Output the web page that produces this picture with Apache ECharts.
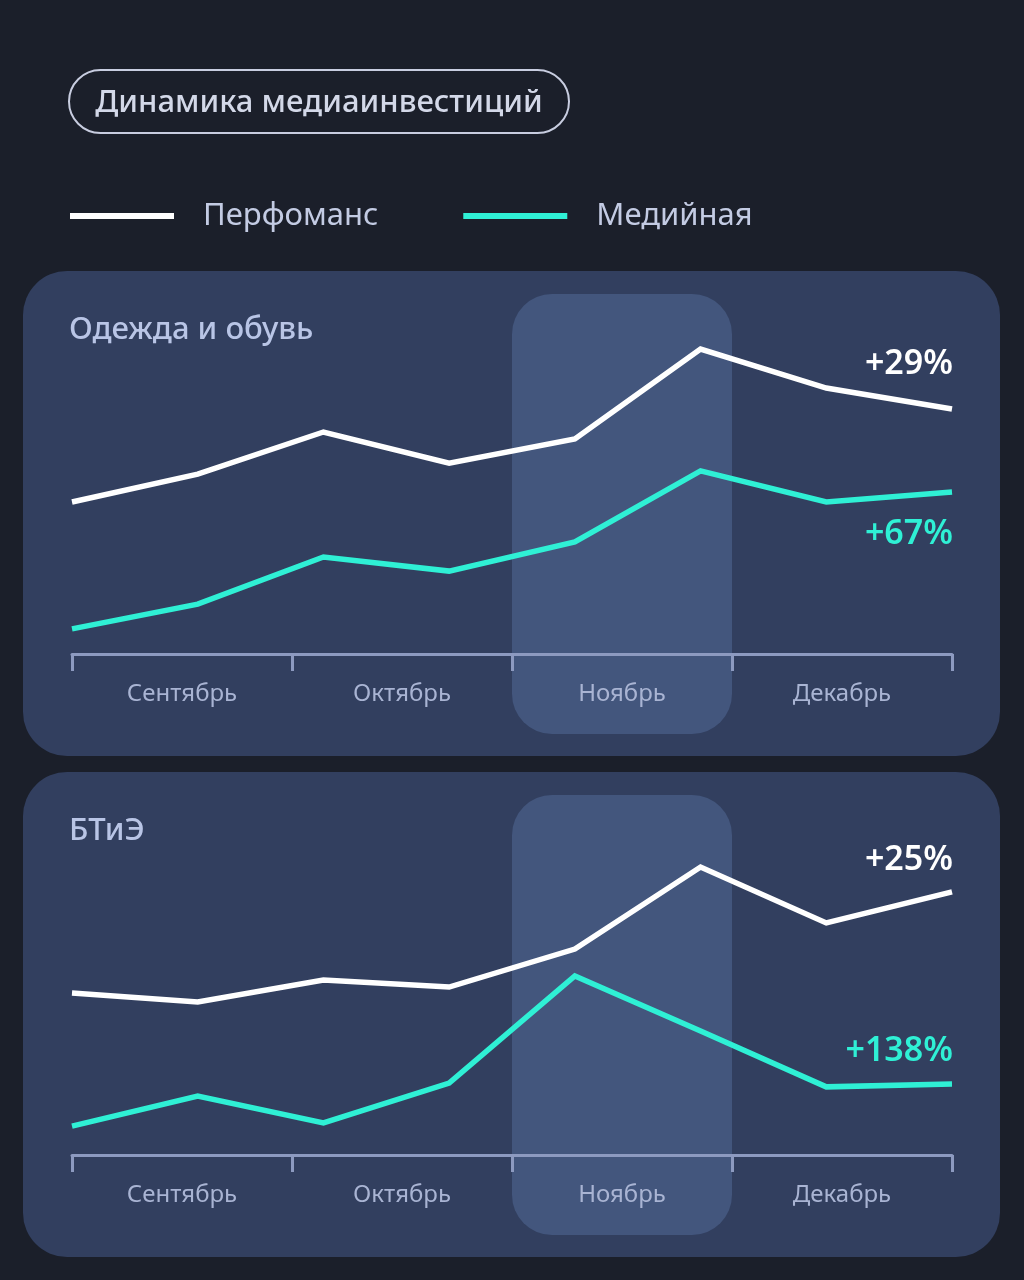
<!DOCTYPE html>
<html>
<head>
<meta charset="utf-8">
<style>
html,body{margin:0;padding:0;background:#1b1f2a;}
#chart{width:1024px;height:1280px;}
</style>
<script src="https://cdn.jsdelivr.net/npm/echarts@6/dist/echarts.min.js"></script>
</head>
<body>
<div id="chart"></div>
<script>
// ---- data ----
const chartTitle = 'Динамика медиаинвестиций';
const seriesNames = ['Перфоманс', 'Медийная'];
const months = ['Сентябрь', 'Октябрь', 'Ноябрь', 'Декабрь'];
const points = ['1', '2', '3', '4', '5', '6', '7', '8'];
const highlightMonth = 'Ноябрь';

const panel1Title = 'Одежда и обувь';
const panel1Perf = [48.4, 57.3, 70.7, 60.8, 68.5, 97.1, 84.7, 78.0];
const panel1Media = [8.0, 15.9, 30.9, 26.4, 35.7, 58.3, 48.4, 51.6];
const panel1PerfChange = '+29%';
const panel1MediaChange = '+67%';

const panel2Title = 'БТиЭ';
const panel2Perf = [51.6, 48.7, 55.7, 53.5, 65.6, 91.7, 73.9, 83.8];
const panel2Media = [9.2, 18.8, 10.2, 22.9, 57.0, 39.5, 21.7, 22.6];
const panel2PerfChange = '+25%';
const panel2MediaChange = '+138%';

// ---- style ----
const BG = '#1b1f2a';
const PANEL = '#323f5f';
const HILITE = '#43567d';
const WHITE = '#ffffff';
const TEAL = '#2ff0d5';
const AXIS = '#8d9ac0';
const LABEL = '#a9b4d3';
const FONT = '"Noto Sans", "Open Sans", sans-serif';

const chart = echarts.init(document.getElementById('chart'), null, {renderer: 'canvas'});

const panels = [
  {title: panel1Title, perf: panel1Perf, media: panel1Media, pc: panel1PerfChange, mc: panel1MediaChange, top: 340, bottom: 626, box: [23, 271, 977, 485]},
  {title: panel2Title, perf: panel2Perf, media: panel2Media, pc: panel2PerfChange, mc: panel2MediaChange, top: 841, bottom: 125, box: [23, 772, 977, 485]}
];

const grid = [], xAxis = [], yAxis = [], series = [];
panels.forEach((p, i) => {
  grid.push({left: 72, right: 72, top: p.top, bottom: p.bottom, containLabel: false});
  xAxis.push({
    type: 'category', gridIndex: i, data: months, boundaryGap: true, position: 'bottom',
    axisLine: {show: true, lineStyle: {color: AXIS, width: 3}},
    axisTick: {show: true, length: 17, lineStyle: {color: AXIS, width: 3}},
    axisLabel: {color: LABEL, fontSize: 24, fontFamily: FONT, margin: 28},
    splitLine: {show: false}, z: 3
  });
  xAxis.push({
    type: 'category', gridIndex: i, data: points, boundaryGap: false,
    show: false
  });
  yAxis.push({type: 'value', gridIndex: i, min: 0, max: 100, show: false, splitLine: {show: false}});
  series.push({
    name: seriesNames[0], type: 'line', xAxisIndex: i * 2 + 1, yAxisIndex: i,
    data: p.perf, showSymbol: false, symbol: 'none',
    lineStyle: {color: WHITE, width: 5.5, join: 'miter'}, itemStyle: {color: WHITE}, z: 5, silent: true
  });
  series.push({
    name: seriesNames[1], type: 'line', xAxisIndex: i * 2 + 1, yAxisIndex: i,
    data: p.media, showSymbol: false, symbol: 'none',
    lineStyle: {color: TEAL, width: 5.5, join: 'miter'}, itemStyle: {color: TEAL}, z: 5, silent: true
  });
});

chart.setOption({
  backgroundColor: BG,
  animation: false,
  textStyle: {fontFamily: FONT},
  legend: {
    left: 70, top: 196, padding: 0, icon: 'rect', itemWidth: 104, itemHeight: 6, itemGap: 85,
    data: seriesNames,
    textStyle: {color: '#c3cbe3', fontSize: 31, fontFamily: FONT, padding: [0, 0, 0, 24], lineHeight: 40},
    selectedMode: false
  },
  grid, xAxis, yAxis, series
});

const gfx = [];
gfx.push({type: 'rect', shape: {x: 69, y: 70, width: 500, height: 63, r: 31.5},
  style: {fill: 'transparent', stroke: '#c8cde0', lineWidth: 2}, z: 1});
gfx.push({type: 'text', x: 319, y: 103, style: {text: chartTitle, fill: '#d3d8e8', font: '500 31px ' + FONT, textAlign: 'center', textVerticalAlign: 'middle'}, z: 1});

panels.forEach((p, i) => {
  const [bx, by, bw, bh] = p.box;
  gfx.push({type: 'rect', shape: {x: bx, y: by, width: bw, height: bh, r: 44}, style: {fill: PANEL}, z: -20});
  const center = chart.convertToPixel({xAxisIndex: i * 2}, highlightMonth);
  const bandW = (1024 - 144) / months.length;
  gfx.push({type: 'rect', shape: {x: center - bandW / 2, y: by + 23, width: bandW, height: bh - 45, r: 40}, style: {fill: HILITE}, z: -10});
  gfx.push({type: 'text', x: 69, y: by + 59, style: {text: p.title, fill: '#b9c5e6', font: '500 31px ' + FONT, textVerticalAlign: 'middle'}, z: 1});
  const last = points.length - 1;
  const pp = chart.convertToPixel({xAxisIndex: i * 2 + 1, yAxisIndex: i}, [points[last], p.perf[last]]);
  const mp = chart.convertToPixel({xAxisIndex: i * 2 + 1, yAxisIndex: i}, [points[last], p.media[last]]);
  const perfDy = i === 0 ? -45 : -32;
  const mediaDy = i === 0 ? 42 : -33;
  gfx.push({type: 'text', x: pp[0] + 1, y: pp[1] + perfDy, style: {text: p.pc, fill: WHITE, font: '600 34px ' + FONT, textAlign: 'right', textVerticalAlign: 'middle'}, z: 6});
  gfx.push({type: 'text', x: mp[0] + 1, y: mp[1] + mediaDy, style: {text: p.mc, fill: TEAL, font: '600 34px ' + FONT, textAlign: 'right', textVerticalAlign: 'middle'}, z: 6});
});

chart.setOption({graphic: {elements: gfx}});
</script>
</body>
</html>
